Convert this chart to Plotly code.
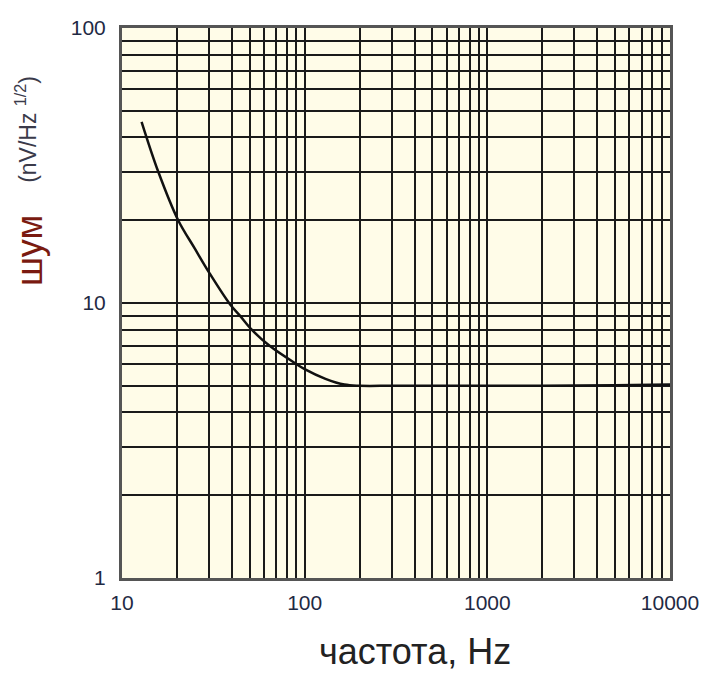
import plotly.graph_objects as go

# data
freq_hz = [12.8, 15.8, 20.3, 25, 30, 39, 44.2, 51.3, 64, 90, 100, 130, 165, 200, 300, 500, 1000, 2000, 5000, 10000]
noise_nv = [45.6, 30, 20, 15.8, 12.9, 9.9, 9.0, 8.0, 7.0, 6.0, 5.75, 5.3, 5.05, 5.0, 5.0, 5.0, 5.0, 5.0, 5.02, 5.05]

x_grid = [m * 10 ** d for d in range(1, 4) for m in range(1, 10)] + [10000]
x_text = [str(v) if str(v).strip("0") == "1" else "" for v in x_grid]
y_grid = [m * 10 ** d for d in range(0, 2) for m in range(1, 10)] + [100]
y_text = [str(v) if str(v).strip("0") == "1" else "" for v in y_grid]

fig = go.Figure()
fig.add_trace(go.Scatter(
    x=freq_hz, y=noise_nv, mode="lines",
    line=dict(color="#111111", width=2.5, shape="spline", smoothing=1.0),
    showlegend=False, hoverinfo="skip",
))

tick_font = dict(family="Liberation Sans, Arial, sans-serif", size=21, color="#1f2a44")

fig.update_xaxes(
    type="log", range=[1, 4], tickvals=x_grid, ticktext=x_text,
    showgrid=True, gridcolor="#1a1a1a", gridwidth=2,
    showline=True, linecolor="#555555", linewidth=3, mirror=True,
    ticks="", tickfont=tick_font, ticklabelstandoff=4, zeroline=False,
)
fig.update_yaxes(
    type="log", range=[0, 2], tickvals=y_grid, ticktext=y_text,
    showgrid=True, gridcolor="#1a1a1a", gridwidth=2,
    showline=True, linecolor="#555555", linewidth=3, mirror=True,
    ticks="", tickfont=tick_font, ticklabelstandoff=9, zeroline=False,
)

fig.add_annotation(
    text="частота, Hz", xref="paper", yref="paper", x=0.535, y=-0.133,
    showarrow=False, xanchor="center", yanchor="middle",
    font=dict(family="Liberation Sans, Arial, sans-serif", size=36, color="#222222"),
)
fig.add_annotation(
    text="шум", xref="paper", yref="paper", x=-0.17, y=0.596,
    showarrow=False, textangle=-90, xanchor="center", yanchor="middle",
    font=dict(family="Liberation Sans, Arial, sans-serif", size=36, color="#7a1a10"),
)
fig.add_annotation(
    text="(nV/Hz <sup>1/2</sup>)", xref="paper", yref="paper", x=-0.175, y=0.815,
    showarrow=False, textangle=-90, xanchor="center", yanchor="middle",
    font=dict(family="Liberation Sans, Arial, sans-serif", size=23, color="#3a3a4a"),
)

fig.update_layout(
    width=711, height=673,
    margin=dict(l=122, r=41, t=28, b=95),
    paper_bgcolor="white", plot_bgcolor="#fffce8",
)

fig.write_html("out.html")
